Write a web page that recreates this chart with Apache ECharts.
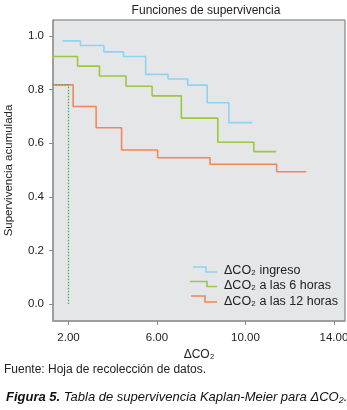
<!DOCTYPE html>
<html><head><meta charset="utf-8">
<script src="https://cdn.jsdelivr.net/npm/echarts@6/dist/echarts.min.js"></script>
<style>html,body{margin:0;padding:0;background:#fff}#c{width:347px;height:410px}</style>
</head><body><div id="c"></div>
<script>
const xTicks = [2, 6, 10, 14];
const yTicks = [0, 0.2, 0.4, 0.6, 0.8, 1.0];
const seriesNames = ['ΔCO₂ ingreso', 'ΔCO₂ a las 6 horas', 'ΔCO₂ a las 12 horas'];
const ingresoX = [1.73, 2.54, 3.60, 4.49, 5.49, 6.50, 7.39, 8.27, 9.25, 10.31];
const ingresoY = [0.982, 0.965, 0.941, 0.924, 0.857, 0.840, 0.817, 0.751, 0.677, 0.677];
const h6X = [1.0, 2.41, 3.40, 4.60, 5.78, 7.10, 8.75, 10.38, 11.39];
const h6Y = [0.924, 0.888, 0.851, 0.813, 0.777, 0.694, 0.604, 0.569, 0.569];
const h12X = [1.0, 2.21, 3.25, 4.40, 6.03, 8.40, 11.41, 12.75];
const h12Y = [0.818, 0.737, 0.658, 0.575, 0.546, 0.522, 0.494, 0.494];
const refX = [1.0, 2.0, 2.0];
const refY = [0.818, 0.818, 0.0];

const colors = ['#8fd3f2', '#9cc83e', '#f5855a'];
const zip = (a, b) => a.map((v, i) => [v, b[i]]);

const FONT = '"Liberation Sans", Arial, sans-serif';

// legend (icons as step glyphs + real text)
const legendRows = [
  {icon: [[193, 267], [206, 267], [206, 272], [217, 272]], y: 271},
  {icon: [[190, 281.5], [207, 281.5], [207, 286.5], [217, 286.5]], y: 286},
  {icon: [[191, 296], [205, 296], [205, 302], [217, 302]], y: 301.5}
];
const legendGraphics = [];
legendRows.forEach((r, i) => {
  legendGraphics.push({type: 'polyline', shape: {points: r.icon},
    style: {stroke: colors[i], lineWidth: 1.6, fill: null}, silent: true});
  legendGraphics.push({type: 'text', x: 224, y: r.y,
    style: {text: seriesNames[i], fontSize: 12.5, fill: '#222', fontFamily: FONT,
      verticalAlign: 'middle', align: 'left'}});
});

const chart = echarts.init(document.getElementById('c'), null, {renderer: 'canvas'});
chart.setOption({
  animation: false,
  textStyle: {fontFamily: FONT},
  title: {
    text: 'Funciones de supervivencia',
    left: 201, top: 0, textAlign: 'center',
    textStyle: {fontSize: 12, fontWeight: 'normal', color: '#222', fontFamily: FONT}
  },
  grid: {
    left: 53, right: 2, top: 20, bottom: 89, outerBoundsMode: 'none', containLabel: false,
    show: true, backgroundColor: '#e5e6e8', borderColor: '#707070', borderWidth: 1
  },
  xAxis: {
    type: 'value', min: 1.3, max: 14.5,
    name: 'ΔCO₂', nameLocation: 'middle', nameGap: 21,
    nameTextStyle: {fontSize: 12, color: '#222'},
    splitLine: {show: false},
    axisLine: {show: true, onZero: false, lineStyle: {color: '#999', width: 1.5}},
    axisTick: {show: true, length: 4, customValues: xTicks, lineStyle: {color: '#888'}},
    axisLabel: {customValues: xTicks, margin: 11, fontSize: 11.5, color: '#222',
      formatter: v => v.toFixed(2)}
  },
  yAxis: {
    type: 'value', min: -0.063, max: 1.06,
    name: 'Supervivencia acumulada', nameLocation: 'middle', nameGap: 38,
    nameTextStyle: {fontSize: 11.5, color: '#222'},
    splitLine: {show: false},
    axisLine: {show: true, onZero: false, lineStyle: {color: '#999', width: 1.5}},
    axisTick: {show: true, length: 4, customValues: yTicks, lineStyle: {color: '#888'}},
    axisLabel: {customValues: yTicks, margin: 9, fontSize: 11.5, color: '#222',
      formatter: v => v.toFixed(1)}
  },
  series: [
    {name: seriesNames[0], type: 'line', step: 'end', symbol: 'none', clip: true,
     data: zip(ingresoX, ingresoY), itemStyle: {color: colors[0]},
     lineStyle: {color: colors[0], width: 1.6}},
    {name: seriesNames[1], type: 'line', step: 'end', symbol: 'none', clip: true,
     data: zip(h6X, h6Y), itemStyle: {color: colors[1]},
     lineStyle: {color: colors[1], width: 1.6}},
    {name: seriesNames[2], type: 'line', step: 'end', symbol: 'none', clip: true,
     data: zip(h12X, h12Y), itemStyle: {color: colors[2]},
     lineStyle: {color: colors[2], width: 1.6}},
    {name: 'ref', type: 'line', symbol: 'none', clip: true,
     data: zip(refX, refY),
     lineStyle: {color: '#3fb24f', width: 1.3, type: [1.5, 1.5]}}
  ],
  graphic: legendGraphics.concat([
    {type: 'text', left: 4, top: 364,
     style: {text: 'Fuente: Hoja de recolección de datos.', fontSize: 12, fill: '#222', fontFamily: FONT}},
    {type: 'text', left: 6, top: 391,
     style: {text: '{b|Figura 5.} Tabla de supervivencia Kaplan-Meier para ΔCO₂.',
       fontSize: 13, fontStyle: 'italic', fill: '#111', fontFamily: FONT,
       rich: {b: {fontWeight: 'bold', fontStyle: 'italic', fontSize: 13, fill: '#111', fontFamily: FONT}}}}
  ])
});
</script></body></html>
